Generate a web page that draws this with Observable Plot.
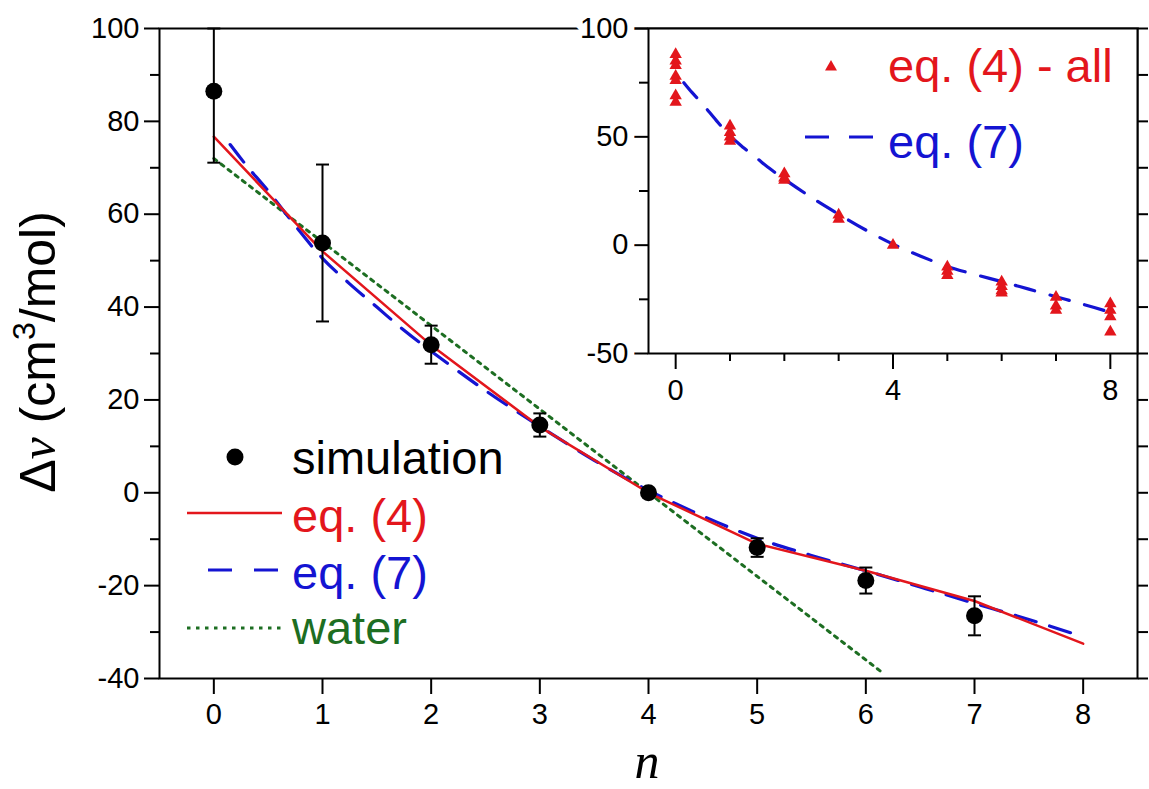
<!DOCTYPE html>
<html><head><meta charset="utf-8">
<script src="https://cdn.jsdelivr.net/npm/d3@7"></script>
<script src="https://cdn.jsdelivr.net/npm/@observablehq/plot@0.6"></script>
<style>
body{margin:0;background:#fff;}
#wrap{position:relative;width:1149px;height:789px;font-family:"Liberation Sans",Arial,sans-serif;background:#fff;overflow:hidden;}
#main,#inset{position:absolute;top:0;}
#main{left:0;}
#inset{left:560px;}
#ov{position:absolute;left:0;top:0;pointer-events:none;}
</style></head><body>
<div id="wrap"><div id="main"></div><div id="inset"></div>
<svg id="ov" width="1149" height="789" xmlns="http://www.w3.org/2000/svg"></svg></div>
<script>
// ---------- data ----------
const simN     = [0, 1, 2, 3, 4, 5, 6, 7];
const simValue = [86.5, 53.8, 31.9, 14.6, 0, -11.8, -18.9, -26.5];
const simErr   = [15.4, 16.9, 4.1, 2.5, 0.8, 2.0, 2.8, 4.2];

const eq4N     = [0, 1, 2, 3, 4, 5, 6, 7, 8];
const eq4Value = [76.7, 52, 31.8, 14.2, 0, -11.0, -16.8, -23.3, -32.5];

const eq7N     = [0.15, 0.3, 0.5, 0.75, 1, 1.25, 1.5, 1.75, 2, 2.5, 3, 3.5, 4, 4.5, 5, 5.5, 6, 6.5, 7, 7.5, 8];
const eq7Value = [75, 70.5, 65, 57.5, 50.5, 45, 40, 35, 30.5, 22, 14.3, 7, 0.5, -5, -9.8, -13.5, -16.8, -20.3, -23.8, -27.3, -31];

const waterN     = [0, 6.15];
const waterValue = [72, -38.7];

// inset: eq. (4) - all
const allN     = [0,0,0,0,0,0,0, 1,1,1,1, 2,2,2, 3,3, 4, 5,5,5, 6,6,6,6, 7,7,7, 8,8,8,8];
const allValue = [88,85,83,78,76,69,66, 55,52,50,48, 33,31,30, 14,12, 0, -10,-12,-14, -17,-19,-21,-22, -24,-28,-30, -27,-30,-33,-40];

const mainXTicks = [0,1,2,3,4,5,6,7,8];
const mainYLabels = [-40,-20,0,20,40,60,80,100];
const mainYMinor = [-30,-10,10,30,50,70,90];
const mainYAll = [-40,-30,-20,-10,0,10,20,30,40,50,60,70,80,90,100];
const insetYLabels = [-50,0,50,100];
const insetYMinor = [-25,25,75];
const insetXLabels = [0,4,8];
const insetXMinor = [1,2,3,5,6,7];

const legendMain = ["simulation", "eq. (4)", "eq. (7)", "water"];
const legendInset = ["eq. (4) - all", "eq. (7)"];

// ---------- styles ----------
const RED = "#e3161c", BLUE = "#1414d2", GREEN = "#1d6e22";
const FONT = "'Liberation Sans', Arial, sans-serif";
const fmt = d => (d < 0 ? "-" + Math.abs(d) : String(d));

const sim = simN.map((n,i)=>({n, v: simValue[i], lo: simValue[i]-simErr[i], hi: Math.min(100, simValue[i]+simErr[i])}));
const eq4 = eq4N.map((n,i)=>({n, v: eq4Value[i]}));
const eq7 = eq7N.map((n,i)=>({n, v: eq7Value[i]}));
const water = waterN.map((n,i)=>({n, v: waterValue[i]}));
const all = allN.map((n,i)=>({n, v: allValue[i]}));

const capSymbol = {draw(ctx, size){ const w = Math.sqrt(size/Math.PI); ctx.moveTo(-w,0); ctx.lineTo(w,0); }};

const main = Plot.plot({
  width: 1149, height: 789,
  marginLeft: 159, marginRight: 12, marginTop: 28, marginBottom: 111,
  x: {domain: [-0.5, 8.5], label: null},
  y: {domain: [-40, 100], label: null},
  style: {background: "white", fontFamily: FONT, fontSize: "29px", color: "black"},
  marks: [
    Plot.line(water, {x: "n", y: "v", stroke: GREEN, strokeWidth: 3, strokeDasharray: "3.5,5.5"}),
    Plot.line(eq7, {x: "n", y: "v", stroke: BLUE, strokeWidth: 3.2, strokeDasharray: "22,14", curve: "catmull-rom"}),
    Plot.line(eq4, {x: "n", y: "v", stroke: RED, strokeWidth: 2.5}),
    Plot.ruleX(sim, {x: "n", y1: "lo", y2: "hi", stroke: "black", strokeWidth: 2}),
    Plot.dot(sim, {x: "n", y: "lo", symbol: capSymbol, r: 6.5, stroke: "black", strokeWidth: 2, fill: "none"}),
    Plot.dot(sim, {x: "n", y: "hi", symbol: capSymbol, r: 6.5, stroke: "black", strokeWidth: 2, fill: "none"}),
    Plot.dot(sim, {x: "n", y: "v", r: 8.5, fill: "black"}),
    Plot.frame({stroke: "black", strokeWidth: 2}),
    Plot.axisY({ticks: mainYLabels, tickFormat: fmt, tickSize: 15, tickPadding: 5, strokeWidth: 2, label: null}),
    Plot.axisY({ticks: mainYMinor, tickSize: 9, fill: "none", strokeWidth: 2, label: null}),
    Plot.axisY({anchor: "right", ticks: mainYAll, tickSize: 10, fill: "none", strokeWidth: 2, label: null}),
    Plot.axisX({ticks: mainXTicks, tickFormat: fmt, tickSize: 16, tickPadding: 9, strokeWidth: 2, label: null})
  ]
});
document.getElementById("main").appendChild(main);

const inset = Plot.plot({
  width: 589, height: 400,
  marginLeft: 88, marginRight: 12, marginTop: 28, marginBottom: 47,
  x: {domain: [-0.5, 8.5], label: null},
  y: {domain: [-50, 100], label: null},
  style: {background: "transparent", fontFamily: FONT, fontSize: "29px", color: "black", overflow: "visible"},
  marks: [
    Plot.frame({fill: "white"}),
    Plot.line(eq7, {x: "n", y: "v", stroke: BLUE, strokeWidth: 3.2, strokeDasharray: "20,16", curve: "catmull-rom"}),
    Plot.dot(all, {x: "n", y: "v", symbol: "triangle", r: 4.6, fill: RED}),
    Plot.frame({stroke: "black", strokeWidth: 2}),
    Plot.axisY({ticks: insetYLabels, tickFormat: fmt, tickSize: 14, tickPadding: 6, strokeWidth: 2, textStroke: "white", textStrokeWidth: 14, label: null}),
    Plot.axisY({ticks: insetYMinor, tickSize: 9, fill: "none", strokeWidth: 2, label: null}),
    Plot.axisX({ticks: insetXLabels, tickFormat: fmt, tickSize: 16, tickPadding: 10, strokeWidth: 2, label: null}),
    Plot.axisX({ticks: insetXMinor, tickSize: 8, fill: "none", strokeWidth: 2, label: null})
  ]
});
document.getElementById("inset").appendChild(inset);

// ---------- overlay: legends and axis titles ----------
const ov = d3.select("#ov");
const lg = ov.append("g").attr("font-family", FONT).attr("font-size", 47);
// main legend
const tx = 292, rows = [474, 532, 589, 644];
const cols = ["black", RED, BLUE, GREEN];
legendMain.forEach((t, i) => lg.append("text").attr("x", tx).attr("y", rows[i]).attr("fill", cols[i]).text(t));
lg.append("circle").attr("cx", 235).attr("cy", rows[0]-17).attr("r", 8.5).attr("fill", "black");
lg.append("line").attr("x1", 187).attr("x2", 282).attr("y1", rows[1]-19).attr("y2", rows[1]-19).attr("stroke", RED).attr("stroke-width", 2.5);
lg.append("line").attr("x1", 208).attr("x2", 278).attr("y1", rows[2]-19).attr("y2", rows[2]-19).attr("stroke", BLUE).attr("stroke-width", 3).attr("stroke-dasharray", "24,22");
lg.append("line").attr("x1", 187).attr("x2", 281).attr("y1", rows[3]-16).attr("y2", rows[3]-16).attr("stroke", GREEN).attr("stroke-width", 3).attr("stroke-dasharray", "3.5,5.5");
// inset legend
const itx = 888, irows = [82, 158];
lg.append("text").attr("x", itx).attr("y", irows[0]).attr("fill", RED).text(legendInset[0]);
lg.append("text").attr("x", itx).attr("y", irows[1]).attr("fill", BLUE).text(legendInset[1]);
lg.append("path").attr("transform", `translate(831,${irows[0]-15})`).attr("d", d3.symbol(d3.symbolTriangle, 62)()).attr("fill", RED);
lg.append("line").attr("x1", 805).attr("x2", 873).attr("y1", irows[1]-21).attr("y2", irows[1]-21).attr("stroke", BLUE).attr("stroke-width", 3).attr("stroke-dasharray", "24,20");
// y title
const yt = ov.append("text").attr("transform", "translate(55,352) rotate(-90)").attr("text-anchor", "middle")
  .attr("font-family", FONT).attr("font-size", 50).attr("fill", "black");
yt.append("tspan").text("Δ");
yt.append("tspan").attr("font-family", "'Liberation Serif','DejaVu Serif',serif").attr("font-style", "italic").text("ν");
yt.append("tspan").text(" (cm");
yt.append("tspan").attr("font-size", 32).attr("dy", -20).text("3");
yt.append("tspan").attr("dy", 20).text("/mol)");
// x title
ov.append("text").attr("x", 647).attr("y", 778).attr("text-anchor", "middle")
  .attr("font-family", "'Liberation Serif','DejaVu Serif',serif").attr("font-style", "italic").attr("font-size", 50).text("n");
</script>
</body></html>
